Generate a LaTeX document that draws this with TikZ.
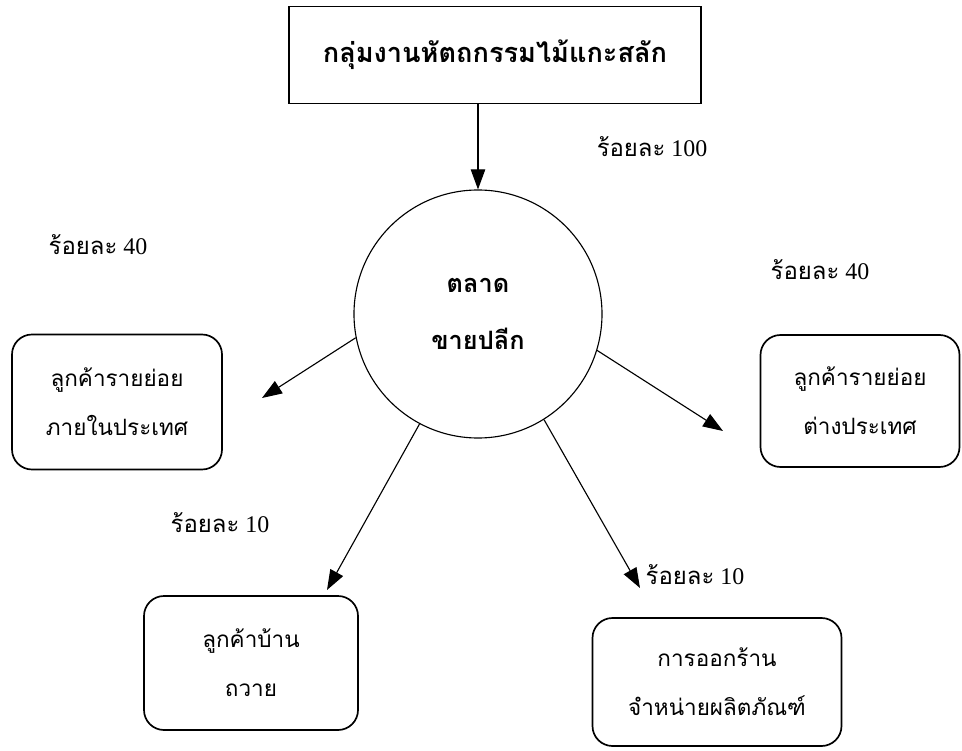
\documentclass[tikz,border=0pt]{standalone}
\usepackage{fontspec}
\setmainfont{Liberation Serif}
\newfontfamily\thaifont[Script=Thai]{Loma}
\usetikzlibrary{arrows.meta}

\begin{document}
\begin{tikzpicture}[x=0.25mm,y=-0.25mm,
  box/.style={draw,line width=1.2pt,rounded corners=5mm,inner sep=0pt,align=center,
    font=\thaifont\fontsize{16}{35}\selectfont},
  pct/.style={font=\fontsize{17}{20}\selectfont},
  flow/.style={-{Triangle[length=5mm,width=3.6mm]},line width=0.8pt}]
\fill[white] (0,0) rectangle (962,751);
\useasboundingbox (0,0) rectangle (962,751);
\node[draw,line width=1.2pt,minimum width=103mm,minimum height=24.25mm,
  font=\thaifont\bfseries\fontsize{19.3}{24}\selectfont] (group) at (495,55) {กลุ่มงานหัตถกรรมไม้แกะสลัก};
\node[draw,circle,line width=0.8pt,minimum size=62mm,inner sep=0pt,align=center,
  font=\thaifont\bfseries\fontsize{18}{40}\selectfont] (retail) at (478,314) {ตลาด\\ขายปลีก};
\node[box,minimum width=52.5mm,minimum height=33.75mm] (local) at (117,402) {ลูกค้ารายย่อย\\ภายในประเทศ};
\node[box,minimum width=49.75mm,minimum height=33mm] (abroad) at (860,401) {ลูกค้ารายย่อย\\ต่างประเทศ};
\node[box,minimum width=53.5mm,minimum height=33.5mm] (home) at (251,663) {ลูกค้าบ้าน\\ถวาย};
\node[box,minimum width=62.25mm,minimum height=32mm] (shop) at (717,682) {การออกร้าน\\จำหน่ายผลิตภัณฑ์};
% percent labels
\node[pct] (p100) at (652,147) {{\thaifont ร้อยละ} 100};
\node[pct] (p40a) at (98,245) {{\thaifont ร้อยละ} 40};
\node[pct] (p40b) at (820,270) {{\thaifont ร้อยละ} 40};
\node[pct] (p10a) at (220,523) {{\thaifont ร้อยละ} 10};
\node[pct] (p10b) at (695,575) {{\thaifont ร้อยละ} 10};
\coordinate (tlocal) at (262,398);
\coordinate (tabroad) at (723,431);
\coordinate (thome) at (327,590);
\coordinate (tshop) at (640,588);
\draw[flow] (retail.north |- group.south) -- (retail.north);
\draw[flow] (retail.191) -- (tlocal);
\draw[flow] (retail.-17) -- (tabroad);
\draw[flow] (retail.-118) -- (thome);
\draw[flow] (retail.-58) -- (tshop);
\end{tikzpicture}
\end{document}
